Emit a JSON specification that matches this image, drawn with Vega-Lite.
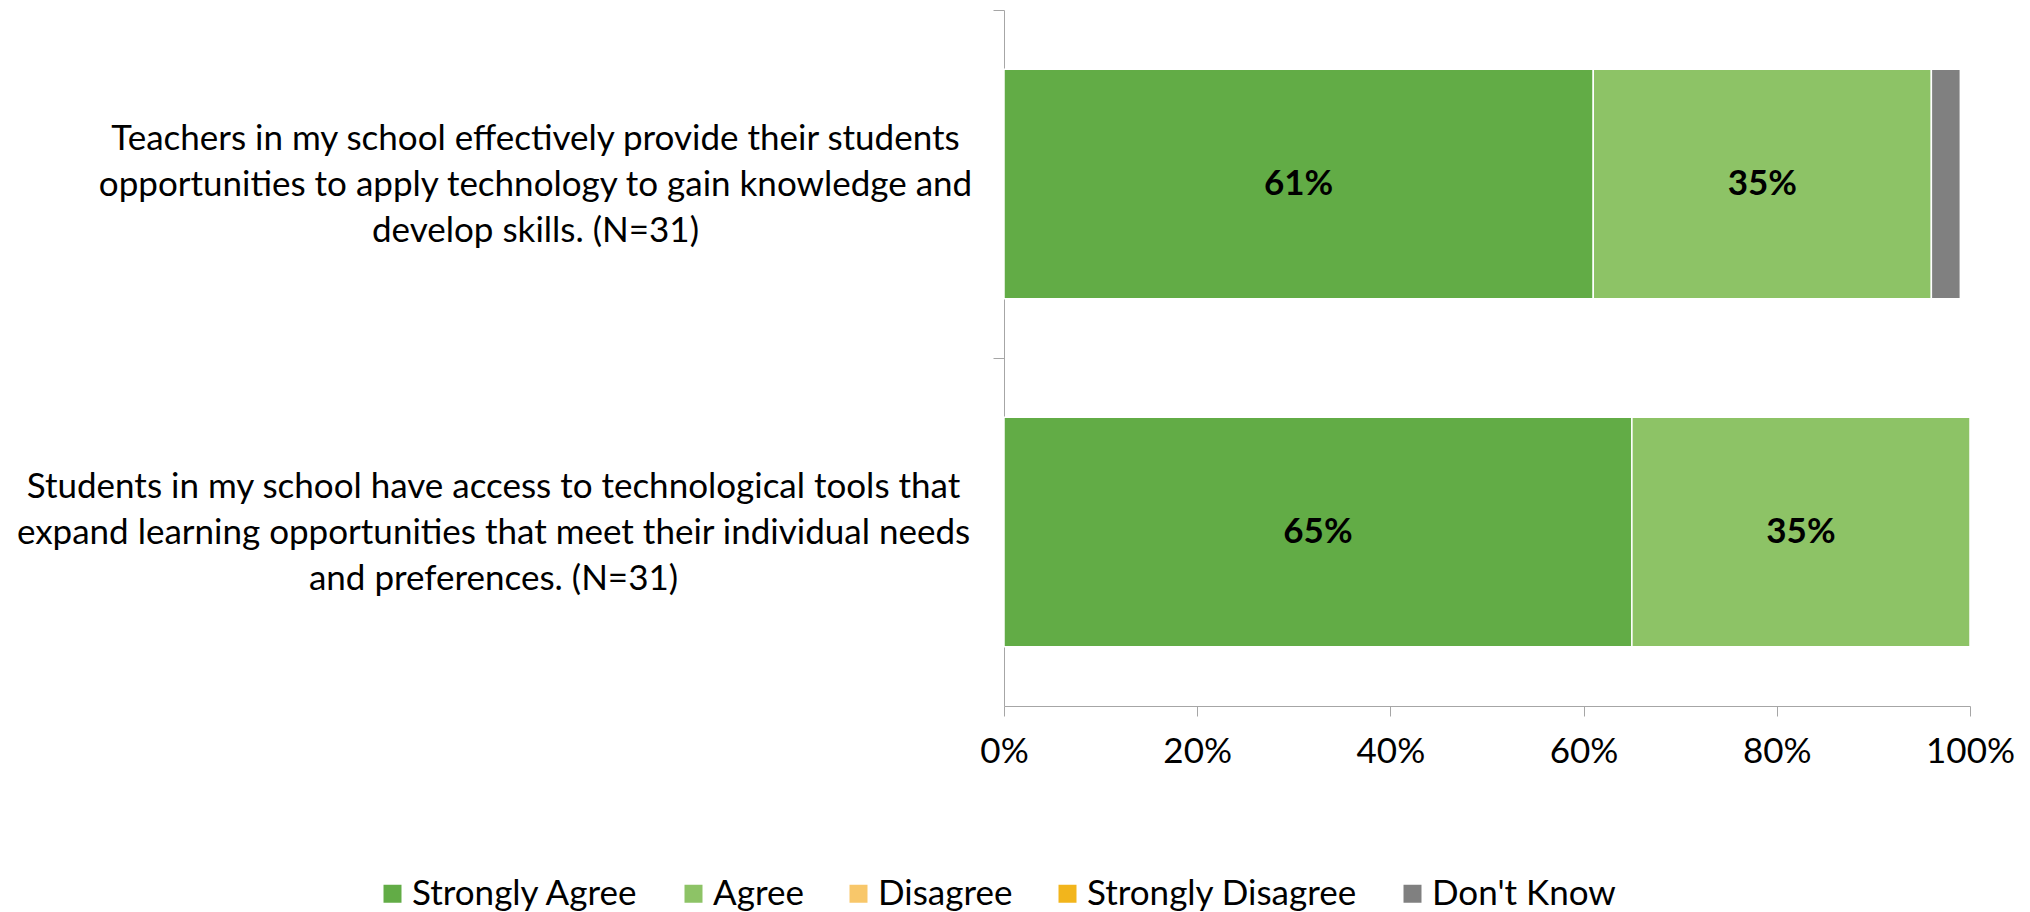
{
  "$schema": "https://vega.github.io/schema/vega-lite/v6.json",
  "width": 966,
  "height": 696,
  "autosize": {"type": "none"},
  "padding": {"left": 1004, "top": 10, "right": 60, "bottom": 206},
  "background": "white",
  "config": {"view": {"stroke": null}, "font": "Lato", "text": {"font": "Lato"}},
  "data": {
    "values": [
      {"question": "Teachers in my school effectively provide their students opportunities to apply technology to gain knowledge and develop skills. (N=31)", "response": "Strongly Agree", "value": 0.61},
      {"question": "Teachers in my school effectively provide their students opportunities to apply technology to gain knowledge and develop skills. (N=31)", "response": "Agree", "value": 0.35},
      {"question": "Teachers in my school effectively provide their students opportunities to apply technology to gain knowledge and develop skills. (N=31)", "response": "Don't Know", "value": 0.03},
      {"question": "Students in my school have access to technological tools that expand learning opportunities that meet their individual needs and preferences. (N=31)", "response": "Strongly Agree", "value": 0.65},
      {"question": "Students in my school have access to technological tools that expand learning opportunities that meet their individual needs and preferences. (N=31)", "response": "Agree", "value": 0.35}
    ]
  },
  "transform": [
    {"calculate": "indexof(['Strongly Agree','Agree','Disagree','Strongly Disagree',\"Don't Know\"], datum.response)", "as": "rnk"},
    {"stack": "value", "groupby": ["question"], "sort": [{"field": "rnk"}], "as": ["v0", "v1"]},
    {"calculate": "(datum.v0 + datum.v1) / 2", "as": "mid"}
  ],
  "encoding": {
    "y": {
      "field": "question",
      "type": "nominal",
      "sort": null,
      "scale": {"paddingInner": 0.34, "paddingOuter": 0.17},
      "axis": {
        "title": null,
        "domainColor": "#A6A6A6",
        "tickColor": "#A6A6A6",
        "tickSize": 11,
        "tickOffset": -174,
        "labelOffset": 128,
        "labelAlign": "center",
        "labelBaseline": "middle",
        "labelFontSize": 35,
        "labelColor": "black",
        "labelLineHeight": 46,
        "labelLimit": 0,
        "labelPadding": {"condition": {"test": "indexof(datum.value, 'Teachers') == 0", "value": 458}, "value": 500},
        "labelExpr": "indexof(datum.label, 'Teachers') == 0 ? ['Teachers in my school effectively provide their students', 'opportunities to apply technology to gain knowledge and', 'develop skills. (N=31)'] : ['Students in my school have access to technological tools that', 'expand learning opportunities that meet their individual needs', 'and preferences. (N=31)']"
      }
    }
  },
  "layer": [
    {
      "mark": {"type": "bar", "stroke": "white", "strokeWidth": 1.5},
      "encoding": {
        "x": {
          "field": "v0",
          "type": "quantitative",
          "scale": {"domain": [0, 1], "nice": false},
          "axis": {
            "title": null,
            "values": [0, 0.2, 0.4, 0.6, 0.8, 1],
            "format": ".0%",
            "grid": false,
            "domainColor": "#A6A6A6",
            "tickColor": "#A6A6A6",
            "tickSize": 10,
            "labelFontSize": 35,
            "labelColor": "black",
            "labelPadding": 18,
            "labelFlush": false
          }
        },
        "x2": {"field": "v1"},
        "color": {
          "field": "response",
          "type": "nominal",
          "scale": {
            "domain": ["Strongly Agree", "Agree", "Disagree", "Strongly Disagree", "Don't Know"],
            "range": ["#62AC46", "#8DC366", "#F8C76A", "#F2B51C", "#808080"]
          },
          "legend": {
            "title": null,
            "orient": "none",
            "legendX": -629,
            "legendY": 866,
            "direction": "horizontal",
            "columns": 5,
            "symbolType": "square",
            "symbolSize": 324,
            "symbolStrokeWidth": 0,
            "symbolOpacity": 1,
            "labelFontSize": 35,
            "labelColor": "black",
            "labelLimit": 0,
            "labelOffset": 2,
            "columnPadding": 37
          }
        }
      }
    },
    {
      "transform": [{"filter": "datum.value >= 0.1"}],
      "mark": {"type": "text", "fontWeight": "bold", "fontSize": 35, "color": "black", "align": "center", "baseline": "middle"},
      "encoding": {
        "x": {"field": "mid", "type": "quantitative"},
        "text": {"field": "value", "type": "quantitative", "format": ".0%"}
      }
    }
  ]
}
